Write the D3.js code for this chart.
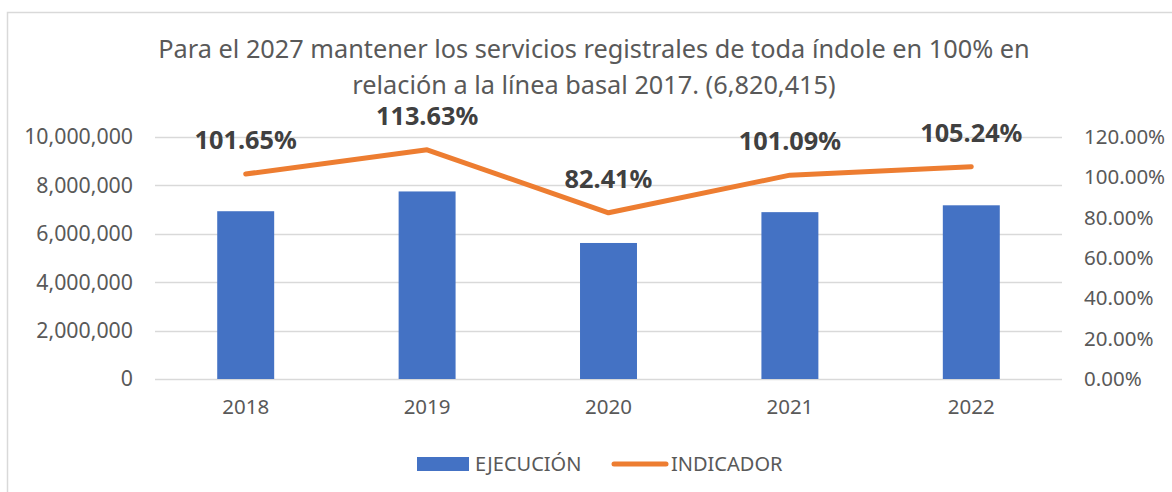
<!DOCTYPE html>
<html>
<head>
<meta charset="utf-8">
<script src="https://cdn.jsdelivr.net/npm/d3@7"></script>
<style>
  body { margin: 0; background: #fff; }
  text { font-family: "Noto Sans", sans-serif; }
</style>
</head>
<body>
<script>
// data
var years = ["2018", "2019", "2020", "2021", "2022"];
var ejecucion = [6932950, 7750040, 5620700, 6894760, 7177800];
var indicador = [1.0165, 1.1363, 0.8241, 1.0109, 1.0524];
var leftTicks = [0, 2000000, 4000000, 6000000, 8000000, 10000000];
var rightTicks = [0, 0.2, 0.4, 0.6, 0.8, 1.0, 1.2];
var titleLines = ["Para el 2027 mantener los servicios registrales de toda índole en 100% en",
                  "relación a la línea basal 2017. (6,820,415)"];

var W = 1172, H = 492;
var margin = {top: 137, left: 155, right: 110, bottom: 113};
var width = W - margin.left - margin.right,
    height = H - margin.top - margin.bottom;

var svg = d3.select("body").append("svg")
  .attr("width", W).attr("height", H);

// chart area border (runs off right/bottom)
svg.append("rect")
  .attr("x", 7.5).attr("y", 12.5)
  .attr("width", W + 20).attr("height", H + 20)
  .attr("fill", "none").attr("stroke", "#d9d9d9").attr("stroke-width", 1.5);

// title
svg.append("g").selectAll("text")
  .data(titleLines)
  .enter().append("text")
  .attr("x", 594)
  .attr("y", function(d, i) { return 58 + i * 36; })
  .attr("text-anchor", "middle")
  .attr("fill", "#595959")
  .style("font-size", "25.3px")
  .text(function(d) { return d; });

var g = svg.append("g")
  .attr("transform", "translate(" + margin.left + "," + margin.top + ")");

var x = d3.scaleBand().domain(years).range([0, width]).paddingInner(0.686).paddingOuter(0.343);
var xc = function(d) { return x(d) + x.bandwidth() / 2; };
var yL = d3.scaleLinear().domain([0, 10000000]).range([height, 0]);
var yR = d3.scaleLinear().domain([0, 1.2]).range([height, 0]);

// gridlines
g.selectAll(".grid")
  .data(leftTicks)
  .enter().append("line")
  .attr("x1", 0).attr("x2", width)
  .attr("y1", function(d) { return Math.round(yL(d)) + 0.5; })
  .attr("y2", function(d) { return Math.round(yL(d)) + 0.5; })
  .attr("stroke", "#d9d9d9").attr("stroke-width", 1.5);

// left axis
var leftAxis = d3.axisLeft(yL).tickValues(leftTicks).tickSize(0).tickPadding(22)
  .tickFormat(d3.format(",.0f"));
g.append("g").call(leftAxis)
  .call(function(s) { s.select(".domain").remove(); })
  .selectAll("text")
  .attr("fill", "#595959").style("font-size", "21.3px")
  .attr("font-family", "Noto Sans");

// right axis
var rightAxis = d3.axisRight(yR).tickValues(rightTicks).tickSize(0).tickPadding(22)
  .tickFormat(d3.format(".2%"));
g.append("g").attr("transform", "translate(" + width + ",0)").call(rightAxis)
  .call(function(s) { s.select(".domain").remove(); })
  .selectAll("text")
  .attr("fill", "#595959").style("font-size", "20.5px")
  .attr("font-family", "Noto Sans");

// x axis
g.append("g").attr("transform", "translate(0," + height + ")")
  .call(d3.axisBottom(x).tickSize(0).tickPadding(20))
  .call(function(s) { s.select(".domain").remove(); })
  .selectAll("text")
  .attr("fill", "#595959").style("font-size", "20.5px")
  .attr("font-family", "Noto Sans");

// bars
g.selectAll(".bar")
  .data(ejecucion)
  .enter().append("rect")
  .attr("class", "bar")
  .attr("x", function(d, i) { return x(years[i]); })
  .attr("width", x.bandwidth())
  .attr("y", function(d) { return yL(d); })
  .attr("height", function(d) { return height - yL(d); })
  .attr("fill", "#4472c4");

// line
var line = d3.line()
  .x(function(d, i) { return xc(years[i]); })
  .y(function(d) { return yR(d); });
g.append("path")
  .datum(indicador)
  .attr("d", line)
  .attr("fill", "none")
  .attr("stroke", "#ed7d31")
  .attr("stroke-width", 5)
  .attr("stroke-linecap", "round")
  .attr("stroke-linejoin", "round");

// data labels
g.selectAll(".lbl")
  .data(indicador)
  .enter().append("text")
  .attr("x", function(d, i) { return xc(years[i]); })
  .attr("y", function(d) { return yR(d) - 25; })
  .attr("text-anchor", "middle")
  .attr("fill", "#404040")
  .style("font-size", "25.3px")
  .style("font-weight", "bold")
  .text(function(d) { return d3.format(".2%")(d); });

// legend
var leg = svg.append("g");
leg.append("rect").attr("x", 417).attr("y", 457).attr("width", 52).attr("height", 14).attr("fill", "#4472c4");
leg.append("text").attr("x", 475).attr("y", 471).attr("fill", "#595959").style("font-size", "20px").text("EJECUCIÓN");
leg.append("line").attr("x1", 614).attr("x2", 666).attr("y1", 464).attr("y2", 464)
  .attr("stroke", "#ed7d31").attr("stroke-width", 5).attr("stroke-linecap", "round");
leg.append("text").attr("x", 671).attr("y", 471).attr("fill", "#595959").style("font-size", "20px").text("INDICADOR");
</script>
</body>
</html>
